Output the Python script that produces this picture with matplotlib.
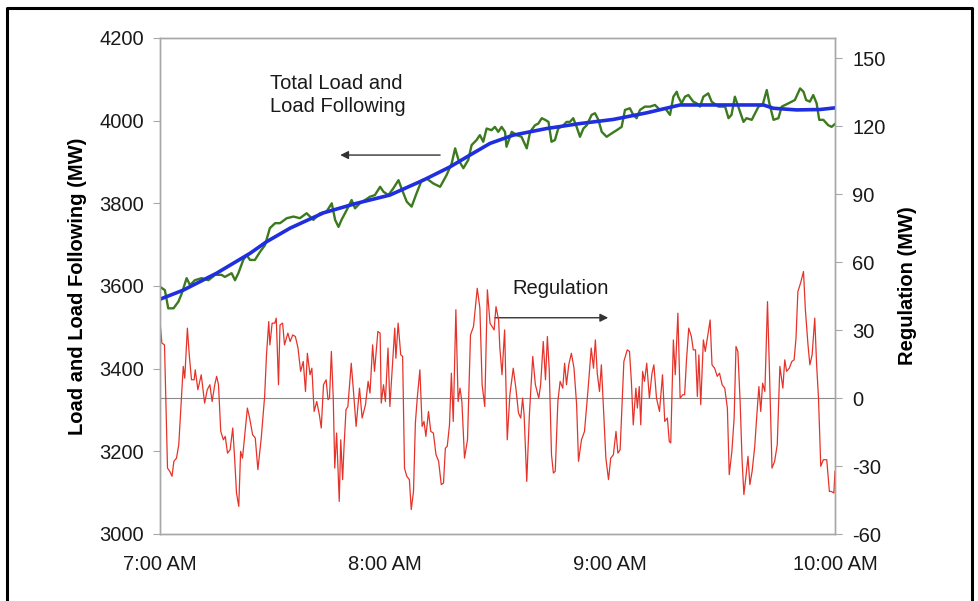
import matplotlib.pyplot as plt
from matplotlib.lines import Line2D

plt.rcParams['font.family'] = ['Liberation Sans', 'DejaVu Sans']
plt.rcParams['axes.unicode_minus'] = False

# minutes after 7:00 AM
tick_min = [0, 60, 120, 180]
tick_lbl = ['7:00 AM', '8:00 AM', '9:00 AM', '10:00 AM']

# total load (MW), noisy
load_min = [0, 1.3, 2.2, 3.6, 4.9, 5.8, 7.1, 8, 9.3, 11.1, 12.9, 14.7, 16.4, 17.3, 19.1, 20, 20.9,
            22.2, 23.1, 24, 25.3, 26.7, 28, 29.3, 30.7, 32, 33.8, 35.6, 37.3, 39.1, 40.9, 42.7,
            44.4, 45.8, 46.7, 47.6, 48.4, 49.8, 51.1, 52, 53.3, 54.7, 56, 57.3, 58.7, 59.6, 60.9,
            62.2, 63.6, 64.4, 65.8, 67.1, 68.4, 69.8, 71.1, 72.9, 74.7, 76.4, 77.8, 78.7, 79.6,
            80.9, 82.2, 83.1, 84.4, 85.3, 86.2, 87.1, 88.4, 89.3, 90.2, 91.1, 92, 92.4, 93.8,
            95.1, 96.4, 97.8, 98.7, 100, 100.9, 101.8, 102.7, 103.6, 104.4, 105.3, 106.2, 107.6,
            108.4, 109.3, 110.2, 111.1, 112, 112.9, 113.8, 115.1, 116, 116.9, 117.8, 119.1,
            120.4, 121.8, 123.1, 124, 125.3, 126.2, 127.1, 128, 129.3, 130.7, 132, 133.3, 134.7,
            136, 136.9, 137.8, 138.2, 139.1, 140, 140.9, 142.2, 143.1, 144, 144.9, 146.2, 147.1,
            148.9, 150.7, 151.6, 152.4, 153.3, 154.2, 155.6, 156.4, 157.8, 158.7, 159.6, 160.7,
            161.8, 162.5, 163.6, 164.9, 165.8, 166.7, 167.6, 169.3, 170.7, 171.6, 172.3, 173.3,
            174.2, 175.1, 175.8, 176.9, 178.2, 179.1, 180]
load_mw = [3598, 3590, 3546, 3546, 3562, 3582, 3619, 3602, 3614, 3619, 3614, 3627, 3627, 3622,
           3631, 3614, 3631, 3663, 3675, 3663, 3663, 3683, 3699, 3740, 3752, 3752, 3764, 3768,
           3764, 3776, 3760, 3776, 3780, 3800, 3760, 3743, 3760, 3784, 3808, 3788, 3800, 3808,
           3816, 3820, 3840, 3828, 3820, 3836, 3856, 3836, 3804, 3792, 3824, 3856, 3860, 3848,
           3840, 3868, 3897, 3933, 3905, 3885, 3905, 3941, 3953, 3965, 3949, 3981, 3977, 3985,
           3973, 3985, 3973, 3937, 3973, 3965, 3961, 3933, 3973, 3989, 3993, 4006, 4002, 3997,
           3949, 3953, 3981, 3989, 3997, 3997, 4006, 3985, 3961, 3981, 3989, 4014, 4018, 4002,
           3973, 3961, 3969, 3977, 3985, 4026, 4030, 4014, 4006, 4026, 4034, 4034, 4038, 4026,
           4030, 4014, 4058, 4070, 4058, 4042, 4058, 4062, 4046, 4042, 4034, 4058, 4066, 4046,
           4034, 4034, 4006, 4014, 4058, 4034, 3997, 4006, 4002, 4018, 4034, 4038, 4074, 4042,
           4002, 4006, 4034, 4038, 4042, 4050, 4078, 4070, 4050, 4046, 4062, 4042, 4002, 4002,
           3989, 3985, 3992]

# load following (MW), smooth
follow_min = [0, 6.2, 15.1, 24, 28.4, 34.7, 43.6, 52.4, 61.3, 70.2, 77.3, 82.7, 88, 94.2, 103.1,
              112, 120.9, 129.8, 138.7, 147.6, 156.4, 160.9, 163.6, 169.8, 176, 180]
follow_mw = [3568, 3590, 3631, 3679, 3707, 3740, 3777, 3800, 3820, 3856, 3888, 3917, 3945, 3965,
             3981, 3993, 4003, 4019, 4038, 4038, 4038, 4038, 4030, 4026, 4027, 4031]

# regulation (MW)
reg_min = [0, 0.5, 1.2, 2.0, 2.6, 3.2, 3.7, 4.4, 5.0, 5.7, 6.2, 6.6, 7.3, 7.8, 8.4, 9.1, 9.4, 10.1,
           11.0, 11.9, 12.6, 13.3, 13.9, 14.6, 15.1, 15.6, 16.2, 16.9, 17.4, 18.0, 18.7, 19.4,
           19.9, 20.4, 21.0, 21.5, 22.0, 22.6, 23.3, 23.9, 24.7, 25.4, 26.1, 27.0, 27.9, 28.4,
           29.0, 29.3, 29.9, 30.6, 31.0, 31.6, 32.0, 32.7, 33.2, 34.1, 34.7, 35.4, 36.1, 36.8,
           37.5, 38.2, 38.8, 39.3, 40.0, 40.5, 41.1, 41.8, 42.5, 43.0, 43.6, 44.3, 44.8, 45.2,
           45.7, 46.2, 46.6, 47.1, 47.8, 48.2, 48.7, 49.1, 49.6, 50.1, 51.0, 51.6, 52.3, 53.2,
           53.9, 54.8, 55.5, 56.0, 56.7, 57.2, 58.1, 58.7, 59.0, 59.6, 60.1, 60.8, 61.3, 62.0,
           62.6, 62.9, 63.5, 64.2, 64.7, 65.2, 65.8, 66.5, 67.0, 67.6, 68.1, 68.6, 69.3, 69.9,
           70.4, 70.9, 71.6, 72.2, 72.9, 73.6, 74.3, 75.0, 75.6, 76.1, 76.6, 77.2, 77.7, 78.2,
           78.9, 79.5, 80.0, 80.5, 81.2, 82.0, 82.8, 83.6, 84.6, 85.3, 85.9, 86.6, 87.3, 88.0,
           89.1, 89.6, 90.3, 90.6, 91.2, 91.9, 92.6, 93.3, 94.2, 94.9, 95.6, 96.2, 96.7, 97.1,
           97.8, 98.5, 99.4, 100.1, 101.0, 101.5, 102.2, 102.8, 103.3, 103.8, 104.4, 104.9,
           105.4, 106.1, 106.7, 107.4, 107.9, 108.4, 109.0, 109.7, 110.4, 111.1, 111.6, 112.4,
           113.2, 114.1, 115.0, 115.6, 116.1, 116.6, 117.2, 117.7, 118.2, 118.9, 119.6, 120.2,
           120.9, 121.6, 122.1, 122.7, 123.7, 124.6, 125.2, 125.7, 126.2, 126.9, 127.3, 127.8,
           128.2, 128.7, 129.2, 129.8, 130.5, 131.2, 131.7, 132.4, 133.2, 134.0, 134.6, 135.3,
           135.8, 136.2, 136.9, 137.4, 138.1, 138.7, 139.4, 139.9, 140.4, 141.0, 141.7, 142.2,
           142.8, 143.3, 143.7, 144.2, 144.9, 145.4, 146.1, 146.7, 147.2, 147.9, 148.6, 149.2,
           149.9, 150.6, 151.3, 151.8, 152.5, 153.1, 153.6, 154.1, 154.7, 155.2, 155.7, 156.3,
           156.8, 157.3, 157.9, 158.6, 159.1, 159.7, 160.2, 160.7, 161.3, 162.0, 162.5, 163.2,
           163.9, 164.6, 165.3, 166.1, 166.6, 167.1, 167.8, 168.5, 169.1, 169.6, 170.1, 170.8,
           171.6, 172.1, 172.8, 173.3, 173.9, 174.6, 175.1, 175.6, 176.2, 176.9, 177.8, 178.5,
           179.0, 179.7, 180.0]
reg_mw = [33.8, 24.3, 23.5, -30.9, -32.3, -34.5, -27.9, -26.5, -20.6, 0, 14.0, 8.8, 30.9, 19.1,
          8.1, 8.1, 12.5, 3.7, 10.3, -2.2, 3.7, 5.9, -1.5, 5.9, 9.6, 5.9, -14.7, -18.4, -16.9,
          -24.3, -22.8, -13.2, -26.5, -41.9, -47.8, -23.5, -26.5, -16.2, -4.4, -8.8, -16.2,
          -17.6, -31.6, -17.6, 0.7, 19.1, 33.8, 23.5, 33.1, 33.1, 35.3, 5.9, 32.3, 33.1, 23.5,
          28.7, 25.0, 27.9, 27.2, 22.1, 11.8, 16.2, 2.9, 19.8, 10.3, 13.2, -5.9, -1.5, -7.4,
          -13.2, 5.9, 8.1, -0.7, 0, 20.6, 0, -30.9, -15.4, -45.6, -18.4, -36.0, -20.6, -5.1,
          -3.7, 15.4, 2.9, -12.5, 4.4, -8.8, -2.9, 7.4, 2.2, 23.5, 11.8, 29.4, 28.7, -2.2, 5.9,
          -1.5, 22.1, -3.7, 14.7, 30.9, 17.6, 33.1, 19.1, 18.4, -30.9, -34.5, -36.0, -49.2,
          -41.2, -11.0, 0, 12.5, -12.5, -10.3, -16.9, -5.9, -14.7, -15.4, -25.0, -27.9, -38.2,
          -37.5, -22.1, -21.3, -11.8, 11.0, -10.3, 39.0, -1.5, 4.4, -1.5, -26.5, -18.4, 27.9,
          31.6, 48.5, 39.7, 5.9, -3.7, 47.8, 33.1, 30.1, 40.4, 34.5, 22.8, 10.3, 30.1, -18.4,
          1.5, 13.2, 4.4, -6.6, -8.8, 0, -7.4, -36.8, -7.4, 18.4, 5.9, 0, 5.9, 25.0, 8.1, 27.2,
          12.5, -25.0, -33.1, -32.3, -1.5, 7.4, 4.4, 15.4, 5.9, 14.7, 19.8, 13.2, -2.9, -27.9,
          -18.4, -14.7, 2.9, 22.1, 13.2, 25.7, 11.0, 2.9, 14.7, -2.9, -26.5, -36.0, -26.5,
          -25.0, -14.7, -24.3, -22.8, 16.2, 21.3, 20.6, 7.4, -11.8, 4.4, -4.4, 5.1, -11.8, 11.8,
          7.4, 15.4, 0, 11.0, 14.7, 0, -5.9, 10.3, -10.3, -8.8, -19.1, -19.8, 25.7, 10.3, 37.5,
          0, 1.5, 1.5, 16.9, 30.9, 27.2, 21.3, 21.3, 0.7, 19.1, -2.9, 25.7, 20.6, 27.9, 34.5,
          14.7, 13.2, 9.6, 11.0, 5.9, 4.4, -4.4, -33.8, -23.5, -8.8, 22.8, 20.6, -1.5, -26.5,
          -42.6, -33.8, -25.7, -38.2, -32.3, -21.3, -8.8, 5.1, -5.9, 6.6, 2.9, 42.6, 13.2,
          -30.9, -27.9, -20.6, 14.0, 4.4, 16.9, 11.8, 13.2, 16.2, 16.9, 26.5, 47.0, 50.7, 55.9,
          39.0, 23.5, 14.7, 19.1, 35.3, 14.7, 0, -30.1, -27.2, -27.2, -41.2, -41.2, -41.9, -32.3]

fig = plt.figure(figsize=(9.79, 6.01), dpi=100)
ax = fig.add_axes([160 / 979, 1 - 534 / 601, 675 / 979, 496 / 601])
ax2 = ax.twinx()

ax.plot(load_min, load_mw, color='#3c7a1e', lw=1.7, zorder=3)
ax.plot(follow_min, follow_mw, color='#1f2fe0', lw=2.6, zorder=4)
ax2.axhline(0, color='#8a8a8a', lw=0.8, zorder=1)
ax2.plot(reg_min, reg_mw, color='#e6332a', lw=0.9, zorder=2)

ax.set_xlim(0, 180)
ax.set_ylim(3000, 4200)
ax2.set_ylim(-60, 159)
ax.set_xticks(tick_min)
ax.set_xticklabels(tick_lbl)
ax.set_yticks(range(3000, 4201, 200))
ax2.set_yticks(range(-60, 151, 30))

for a in (ax, ax2):
    for sp in a.spines.values():
        sp.set_color('#a8a8a8')
        sp.set_linewidth(1.0)
    a.tick_params(labelsize=14.5, colors='#a8a8a8', labelcolor='#1a1a1a')
ax.tick_params(axis='y', length=5, width=0.8, pad=6.5)
ax2.tick_params(axis='y', length=5, width=0.8, pad=7.5)
ax.tick_params(axis='x', length=0, pad=15)

ax.set_ylabel('Load and Load Following (MW)', fontsize=14.5, fontweight='bold', labelpad=9)
ax2.set_ylabel('Regulation (MW)', fontsize=14.5, fontweight='bold', labelpad=9)

ax.text(0.163, 0.885, 'Total Load and\nLoad Following', transform=ax.transAxes,
        ha='left', va='center', fontsize=14.5, color='#1a1a1a', linespacing=1.3)
ax.annotate('', xy=(0.267, 0.764), xytext=(0.415, 0.764), xycoords='axes fraction',
            arrowprops=dict(arrowstyle='-|>', color='#333333', lw=1.0,
                            mutation_scale=12, shrinkA=0, shrinkB=0))
ax.text(0.594, 0.494, 'Regulation', transform=ax.transAxes,
        ha='center', va='center', fontsize=14.5, color='#1a1a1a')
ax.annotate('', xy=(0.664, 0.436), xytext=(0.496, 0.436), xycoords='axes fraction',
            arrowprops=dict(arrowstyle='-|>', color='#333333', lw=1.0,
                            mutation_scale=12, shrinkA=0, shrinkB=0))

# outer frame, open at the bottom
fig.add_artist(Line2D([7 / 979, 7 / 979, 972 / 979, 972 / 979],
                      [-0.01, 1 - 8 / 601, 1 - 8 / 601, -0.01],
                      transform=fig.transFigure, color='black', lw=2.2))

fig.savefig('out.png', dpi=100)
